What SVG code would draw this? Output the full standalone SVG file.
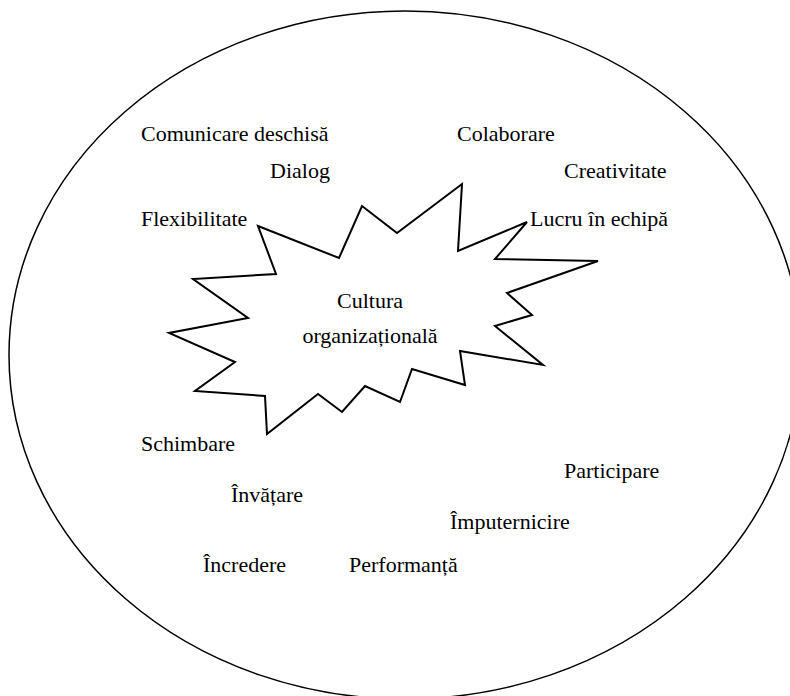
<svg xmlns="http://www.w3.org/2000/svg" width="790" height="696" viewBox="0 0 790 696">
<style>
.t{font-family:"Liberation Serif","Times New Roman",serif;font-size:22px;fill:#000}
.c{text-anchor:middle}
</style>
<rect width="790" height="696" fill="#fff"/>
<g id="boundary">
<ellipse cx="405" cy="355" rx="396" ry="344" fill="none" stroke="#000" stroke-width="1.5"/>
</g>
<g id="center">
<polygon points="258,226 339,258 362,206 397,233 462,184 458,251 527,222 495,259 598,261 507,293 532,315 495,326 543,365 460,351 465,385 412,369 400,402 365,386 342,412 318,394 267,434 265,396 195,391 235,362 169,333 248,318 193,279 276,274" fill="none" stroke="#000" stroke-width="2" stroke-linejoin="miter"/>
<text class="t c" x="370" y="308">Cultura</text>
<text class="t c" x="370" y="343">organizațională</text>
</g>
<g id="labels">
<g id="n1"><text class="t" x="141" y="141">Comunicare deschisă</text></g>
<g id="n2"><text class="t" x="457" y="141">Colaborare</text></g>
<g id="n3"><text class="t" x="270" y="178">Dialog</text></g>
<g id="n4"><text class="t" x="564" y="178">Creativitate</text></g>
<g id="n5"><text class="t" x="141" y="226">Flexibilitate</text></g>
<g id="n6"><text class="t" x="530" y="226">Lucru în echipă</text></g>
<g id="n7"><text class="t" x="141" y="451">Schimbare</text></g>
<g id="n8"><text class="t" x="564" y="478">Participare</text></g>
<g id="n9"><text class="t" x="231" y="502">Învățare</text></g>
<g id="n10"><text class="t" x="450" y="529">Împuternicire</text></g>
<g id="n11"><text class="t" x="203" y="572">Încredere</text></g>
<g id="n12"><text class="t" x="349" y="572">Performanță</text></g>
</g>
</svg>
